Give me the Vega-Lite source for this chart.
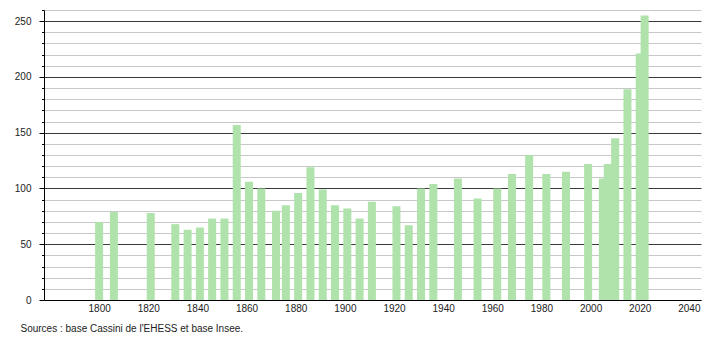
{
  "$schema": "https://vega.github.io/schema/vega-lite/v6.json",
  "width": 657,
  "height": 290,
  "autosize": {"type": "none"},
  "padding": {"left": 44, "top": 10, "right": 9, "bottom": 40},
  "background": "white",
  "config": {
    "view": {"stroke": null},
    "font": "Liberation Sans",
    "axis": {"labelFont": "Liberation Sans", "titleFont": "Liberation Sans", "labelColor": "#222", "labelFontSize": 10}
  },
  "data": {
    "values": [
      {"year": 1800, "population": 70},
      {"year": 1806, "population": 79},
      {"year": 1821, "population": 78},
      {"year": 1831, "population": 68},
      {"year": 1836, "population": 63},
      {"year": 1841, "population": 65},
      {"year": 1846, "population": 73},
      {"year": 1851, "population": 73},
      {"year": 1856, "population": 157},
      {"year": 1861, "population": 106},
      {"year": 1866, "population": 100},
      {"year": 1872, "population": 80},
      {"year": 1876, "population": 85},
      {"year": 1881, "population": 96},
      {"year": 1886, "population": 119},
      {"year": 1891, "population": 99},
      {"year": 1896, "population": 85},
      {"year": 1901, "population": 82},
      {"year": 1906, "population": 73},
      {"year": 1911, "population": 88},
      {"year": 1921, "population": 84},
      {"year": 1926, "population": 67},
      {"year": 1931, "population": 100},
      {"year": 1936, "population": 104},
      {"year": 1946, "population": 109},
      {"year": 1954, "population": 91},
      {"year": 1962, "population": 100},
      {"year": 1968, "population": 113},
      {"year": 1975, "population": 130},
      {"year": 1982, "population": 113},
      {"year": 1990, "population": 115},
      {"year": 1999, "population": 122},
      {"year": 2005, "population": 109},
      {"year": 2007, "population": 122},
      {"year": 2010, "population": 145},
      {"year": 2015, "population": 189},
      {"year": 2020, "population": 221},
      {"year": 2022, "population": 255}
    ]
  },
  "mark": {"type": "bar", "size": 8, "color": "#b0e2ab"},
  "encoding": {
    "x": {
      "field": "year",
      "type": "quantitative",
      "scale": {"domain": [1779.6, 2042.9], "nice": false, "zero": false},
      "axis": {
        "values": [1800, 1820, 1840, 1860, 1880, 1900, 1920, 1940, 1960, 1980, 2000, 2020, 2040],
        "format": "d",
        "grid": false,
        "ticks": false,
        "labelPadding": 3,
        "domainColor": "#000",
        "domainWidth": 1,
        "labelFlush": false,
        "title": "Sources : base Cassini de l'EHESS et base Insee.",
        "titleX": -24,
        "titleY": 28,
        "titleAlign": "left",
        "titleBaseline": "middle",
        "titleFontSize": 10,
        "titleFontWeight": "normal",
        "titleColor": "#222"
      }
    },
    "y": {
      "field": "population",
      "type": "quantitative",
      "scale": {"domain": [0, 260], "nice": false},
      "axis": {
        "values": [0, 10, 20, 30, 40, 50, 60, 70, 80, 90, 100, 110, 120, 130, 140, 150, 160, 170, 180, 190, 200, 210, 220, 230, 240, 250, 260],
        "labelExpr": "datum.value % 50 === 0 ? datum.label : ''",
        "title": null,
        "domainColor": "#000",
        "tickColor": "#000",
        "tickSize": {"condition": {"test": "datum.value % 50 === 0", "value": 5}, "value": 2.5},
        "labelPadding": 8,
        "gridColor": {"condition": {"test": "datum.value % 50 === 0", "value": "#3a3a3a"}, "value": "#c8c8c8"},
        "gridOpacity": 1,
        "labelFlush": false
      }
    }
  }
}
